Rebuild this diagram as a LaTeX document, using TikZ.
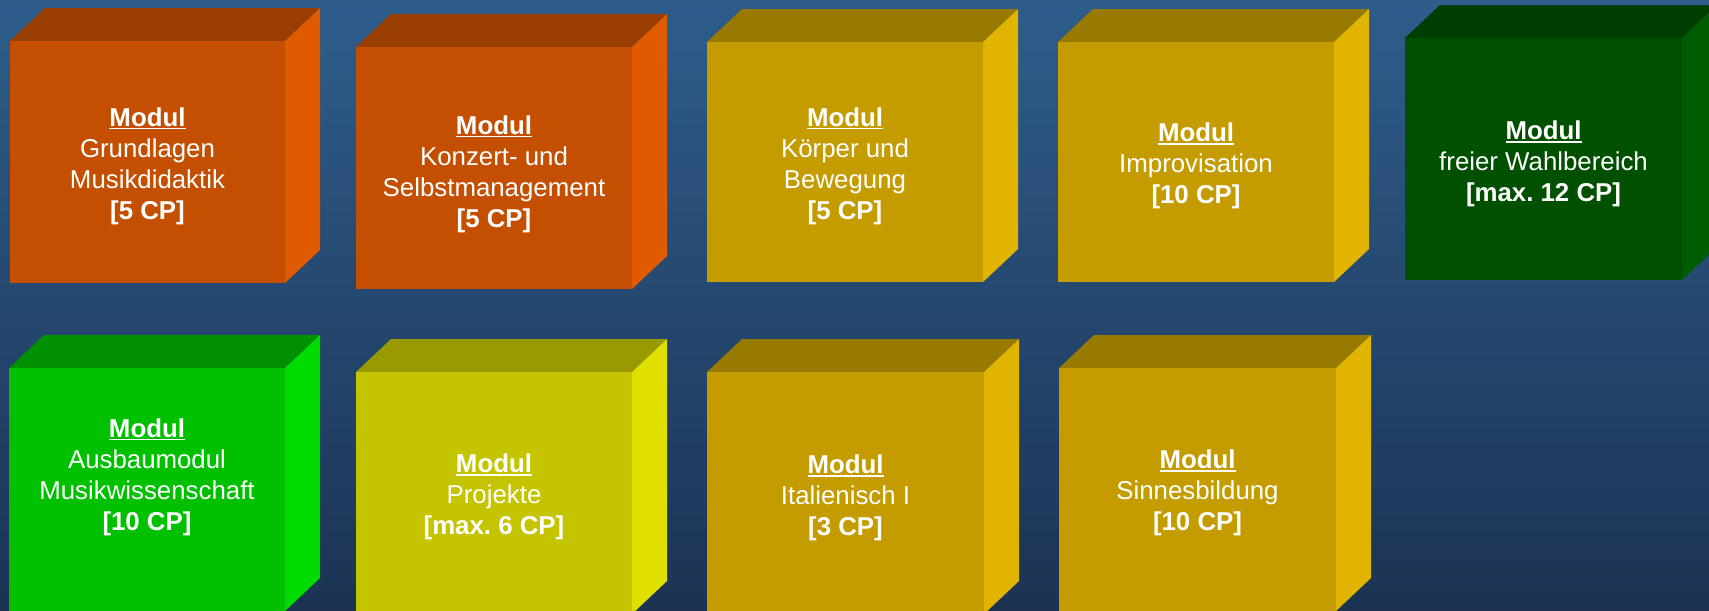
\documentclass[tikz,border=0pt]{standalone}
\usepackage{fontspec}
\setmainfont{Liberation Sans}
\frenchspacing

\definecolor{bgtop}{RGB}{46,93,139}
\definecolor{bgbot}{RGB}{28,51,83}
% orange
\definecolor{orF}{RGB}{196,79,0}
\definecolor{orT}{RGB}{153,61,0}
\definecolor{orS}{RGB}{224,90,0}
% gold
\definecolor{goF}{RGB}{196,156,0}
\definecolor{goT}{RGB}{153,122,0}
\definecolor{goS}{RGB}{224,180,0}
% yellow
\definecolor{yeF}{RGB}{196,196,0}
\definecolor{yeT}{RGB}{153,153,0}
\definecolor{yeS}{RGB}{224,224,0}
% light green
\definecolor{lgF}{RGB}{0,192,0}
\definecolor{lgT}{RGB}{0,144,0}
\definecolor{lgS}{RGB}{0,220,0}
% dark green
\definecolor{dgF}{RGB}{0,80,0}
\definecolor{dgT}{RGB}{0,61,0}
\definecolor{dgS}{RGB}{0,92,0}

\tikzset{
  modtext/.style={text=white, align=center, inner sep=0pt,
    font=\fontsize{14.7}{17.6}\selectfont}
}

\newcommand{\modhead}{\setbox0\hbox{\textbf{Modul}}\rlap{\rule[-1.8pt]{\wd0}{1pt}}\box0}

% quader: name, x0, y0, x1, y1, colour, text y, text
\newcommand{\quader}[8]{%
  \fill[#6T] (#2,#3) -- (#2+35,#3-33) -- (#4+35,#3-33) -- (#4,#3) -- cycle;
  \fill[#6S] (#4,#3) -- (#4+35,#3-33) -- (#4+35,#5-33) -- (#4,#5) -- cycle;
  \fill[#6F] (#2,#3) rectangle (#4,#5);
  \node[modtext] (#1) at ({(#2+#4)/2},#7) {#8};
}

\begin{document}
\begin{tikzpicture}[x=0.02cm, y=-0.02cm]
\useasboundingbox (0,0) rectangle (1709,610);
\clip (0,0) rectangle (1709,610);
\shade[top color=bgtop, bottom color=bgbot] (0,0) rectangle (1709,610);

% first row
\quader{grundlagen}{10}{41}{285}{283}{or}{166}{\modhead\\Grundlagen\\Musikdidaktik\\\textbf{[5 CP]}}
\quader{konzert}{356}{47}{632}{289}{or}{174}{\modhead\\Konzert- und\\Selbstmanagement\\\textbf{[5 CP]}}
\quader{koerper}{707}{42}{983}{282}{go}{166}{\modhead\\Körper und\\Bewegung\\\textbf{[5 CP]}}
\quader{impro}{1058}{42}{1334}{282}{go}{166}{\modhead\\Improvisation\\\textbf{[10 CP]}}
\quader{wahl}{1405}{38}{1682}{280}{dg}{164}{\modhead\\freier Wahlbereich\\\textbf{[max. 12 CP]}}

% second row
\quader{ausbau}{9}{368}{285}{611}{lg}{477}{\modhead\\Ausbaumodul\\Musikwissenschaft\\\textbf{[10 CP]}}
\quader{projekte}{356}{372}{632}{614}{ye}{497}{\modhead\\Projekte\\\textbf{[max. 6 CP]}}
\quader{italienisch}{707}{372}{984}{614}{go}{498}{\modhead\\Italienisch I\\\textbf{[3 CP]}}
\quader{sinne}{1059}{368}{1336}{611}{go}{493}{\modhead\\Sinnesbildung\\\textbf{[10 CP]}}

\end{tikzpicture}
\end{document}
